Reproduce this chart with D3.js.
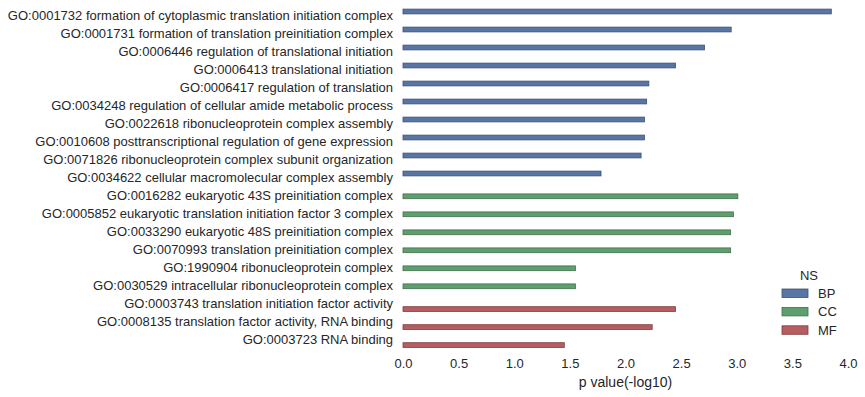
<!DOCTYPE html>
<html>
<head>
<meta charset="utf-8">
<script src="https://cdn.jsdelivr.net/npm/d3@7"></script>
<style>
  body { margin: 0; background: #fff; }
  svg { display: block; font-family: "Liberation Sans", Arial, sans-serif; }
  .tick text, .label, .legend text { fill: #262626; }
</style>
</head>
<body>
<svg id="chart" width="865" height="397"></svg>
<script>
const terms = [
  'GO:0001732 formation of cytoplasmic translation initiation complex',
  'GO:0001731 formation of translation preinitiation complex',
  'GO:0006446 regulation of translational initiation',
  'GO:0006413 translational initiation',
  'GO:0006417 regulation of translation',
  'GO:0034248 regulation of cellular amide metabolic process',
  'GO:0022618 ribonucleoprotein complex assembly',
  'GO:0010608 posttranscriptional regulation of gene expression',
  'GO:0071826 ribonucleoprotein complex subunit organization',
  'GO:0034622 cellular macromolecular complex assembly',
  'GO:0016282 eukaryotic 43S preinitiation complex',
  'GO:0005852 eukaryotic translation initiation factor 3 complex',
  'GO:0033290 eukaryotic 48S preinitiation complex',
  'GO:0070993 translation preinitiation complex',
  'GO:1990904 ribonucleoprotein complex',
  'GO:0030529 intracellular ribonucleoprotein complex',
  'GO:0003743 translation initiation factor activity',
  'GO:0008135 translation factor activity, RNA binding',
  'GO:0003723 RNA binding'
];
const namespaces = ['BP', 'BP', 'BP', 'BP', 'BP', 'BP', 'BP', 'BP', 'BP', 'BP',
  'CC', 'CC', 'CC', 'CC', 'CC', 'CC', 'MF', 'MF', 'MF'];
const pvalues = [3.85, 2.95, 2.71, 2.45, 2.21, 2.19, 2.17, 2.17, 2.14, 1.78,
  3.01, 2.97, 2.945, 2.945, 1.55, 1.55, 2.45, 2.24, 1.45];
const nsList = ['BP', 'CC', 'MF'];
const nsColors = ['#5975a4', '#5f9e6e', '#b55d60'];
const nsEdges = ['#3d5073', '#41704c', '#803f41'];
const xTicks = [0, 0.5, 1, 1.5, 2, 2.5, 3, 3.5, 4];

const svg = d3.select('#chart');
const plotLeft = 403, plotRight = 848, plotTop = 7.3, plotBottom = 349.3;

const x = d3.scaleLinear().domain([0, 4]).range([plotLeft, plotRight]);
const y = d3.scaleBand().domain(terms).range([plotTop, plotBottom]).padding(0);
const hue = d3.scaleBand().domain(nsList)
  .range([-0.4 * y.bandwidth(), 0.4 * y.bandwidth()]);
const color = d3.scaleOrdinal().domain(nsList).range(nsColors);
const edge = d3.scaleOrdinal().domain(nsList).range(nsEdges);

const rows = terms.map((t, i) => ({ term: t, ns: namespaces[i], v: pvalues[i] }));

svg.append('g').selectAll('rect')
  .data(rows)
  .join('rect')
  .attr('x', x(0))
  .attr('y', d => y(d.term) + y.bandwidth() / 2 + hue(d.ns))
  .attr('width', d => x(d.v) - x(0))
  .attr('height', hue.bandwidth())
  .attr('fill', d => color(d.ns))
  .attr('stroke', d => edge(d.ns))
  .attr('stroke-width', 0.8);

const yAxis = svg.append('g')
  .attr('transform', `translate(${plotLeft},0)`)
  .call(d3.axisLeft(y).tickSize(0).tickPadding(10));
yAxis.select('.domain').remove();
yAxis.selectAll('text').attr('font-size', 13).attr('font-family', null);

const xAxis = svg.append('g')
  .attr('transform', `translate(0,${plotBottom})`)
  .call(d3.axisBottom(x).tickValues(xTicks).tickFormat(d3.format('.1f')).tickSize(0).tickPadding(9));
xAxis.select('.domain').remove();
xAxis.selectAll('text').attr('font-size', 13).attr('font-family', null);

svg.append('text')
  .attr('class', 'label')
  .attr('x', (plotLeft + plotRight) / 2)
  .attr('y', 387)
  .attr('text-anchor', 'middle')
  .attr('font-size', 14)
  .text('p value(-log10)');

const legend = svg.append('g').attr('class', 'legend');
legend.append('text')
  .attr('x', 809)
  .attr('y', 280)
  .attr('text-anchor', 'middle')
  .attr('font-size', 13)
  .text('NS');
const items = legend.selectAll('g.item')
  .data(nsList)
  .join('g')
  .attr('class', 'item')
  .attr('transform', (d, i) => `translate(782,${289 + i * 18.4})`);
items.append('rect')
  .attr('width', 26)
  .attr('height', 8.5)
  .attr('fill', d => color(d))
  .attr('stroke', d => edge(d))
  .attr('stroke-width', 0.8);
items.append('text')
  .attr('x', 36)
  .attr('y', 9)
  .attr('font-size', 13)
  .text(d => d);
</script>
</body>
</html>
